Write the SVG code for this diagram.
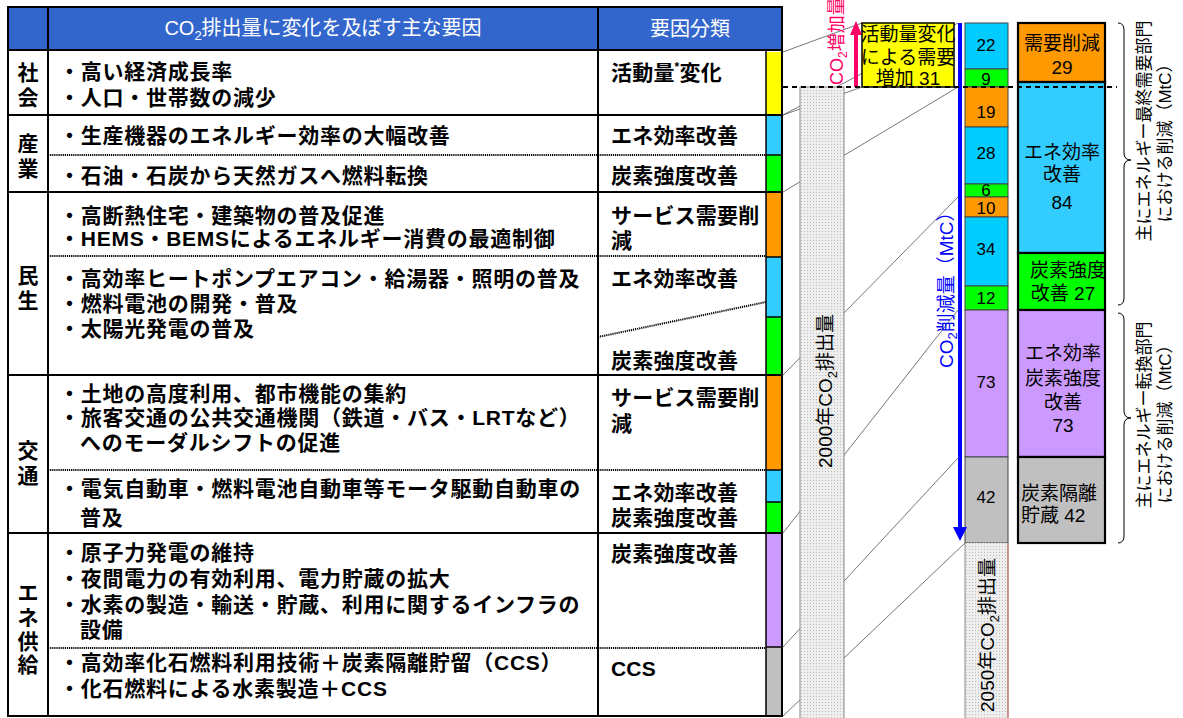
<svg xmlns="http://www.w3.org/2000/svg" width="1183" height="718" viewBox="0 0 1183 718">
<defs>
<style>
.t{font-family:"Liberation Sans","Noto Sans CJK JP",sans-serif;font-size:21px;font-weight:bold;letter-spacing:0.75px;fill:#000}
.c{font-family:"Liberation Sans","Noto Sans CJK JP",sans-serif;font-size:21px;font-weight:bold;letter-spacing:0.2px;fill:#000}
.lb{font-family:"Liberation Sans","Noto Sans CJK JP",sans-serif;font-size:21px;font-weight:bold;fill:#000;text-anchor:middle}
.h{font-family:"Liberation Sans","Noto Sans CJK JP",sans-serif;font-size:20px;fill:#fff;text-anchor:middle}
.n{font-family:"Liberation Sans","Noto Sans CJK JP",sans-serif;font-size:17px;fill:#000;text-anchor:middle}
.r{font-family:"Liberation Sans","Noto Sans CJK JP",sans-serif;font-size:19px;fill:#000;text-anchor:middle}
.rl{font-family:"Liberation Sans","Noto Sans CJK JP",sans-serif;font-size:19px;fill:#000}
.v{font-family:"Liberation Sans","Noto Sans CJK JP",sans-serif;font-size:19px;fill:#000}
.s{font-family:"Liberation Sans","Noto Sans CJK JP",sans-serif;font-size:17px;fill:#000;text-anchor:middle}
.thick{stroke:#000;stroke-width:2;fill:none}
.dot{stroke:#000;stroke-width:2;stroke-dasharray:1.2 0.9;fill:none}
.bar{stroke:#444;stroke-width:1}
.box{stroke:#000;stroke-width:2.2}
</style>
<pattern id="dots" width="3" height="3" patternUnits="userSpaceOnUse">
<rect width="3" height="3" fill="#EEEEEE"/>
<rect width="1" height="1" fill="#BDBDBD"/>
</pattern>
</defs>
<rect width="1183" height="718" fill="#fff"/>

<g id="connectors" stroke="#666" stroke-width="0.9" fill="none">
<line x1="783" y1="52" x2="862" y2="23"/>
<line x1="783" y1="115" x2="862" y2="87"/>
<line x1="783" y1="115" x2="958" y2="23"/>
<line x1="783" y1="192" x2="958" y2="87"/>
<line x1="783" y1="375" x2="958" y2="197"/>
<line x1="783" y1="533" x2="958" y2="310"/>
<line x1="783" y1="647" x2="958" y2="458"/>
<line x1="783" y1="716" x2="965" y2="543"/>
</g>

<g id="table">
<rect x="8" y="7" width="774" height="43" fill="#3366CC"/>
<rect x="766" y="52" width="16" height="63" fill="#FFFF00"/>
<rect x="766" y="115" width="16" height="40" fill="#33CCFF"/>
<rect x="766" y="155" width="16" height="37" fill="#00FF00"/>
<rect x="766" y="192" width="16" height="65" fill="#FF9900"/>
<rect x="766" y="257" width="16" height="60" fill="#33CCFF"/>
<rect x="766" y="317" width="16" height="58" fill="#00FF00"/>
<rect x="766" y="375" width="16" height="95" fill="#FF9900"/>
<rect x="766" y="470" width="16" height="32" fill="#33CCFF"/>
<rect x="766" y="502" width="16" height="31" fill="#00FF00"/>
<rect x="766" y="533" width="16" height="114" fill="#CC99FF"/>
<rect x="766" y="647" width="16" height="69" fill="#C0C0C0"/>
<g stroke="#000" stroke-width="1.5">
<line x1="766" y1="50" x2="766" y2="716"/>
<line x1="766" y1="155" x2="782" y2="155"/>
<line x1="766" y1="257" x2="782" y2="257"/>
<line x1="766" y1="317" x2="782" y2="317"/>
<line x1="766" y1="470" x2="782" y2="470"/>
<line x1="766" y1="502" x2="782" y2="502"/>
<line x1="766" y1="647" x2="782" y2="647"/>
</g>
<rect x="8" y="7" width="774" height="709" class="thick"/>
<line x1="48" y1="7" x2="48" y2="716" class="thick"/>
<line x1="598" y1="7" x2="598" y2="716" class="thick"/>
<line x1="8" y1="50" x2="782" y2="50" class="thick" stroke-width="2.5"/>
<line x1="8" y1="115" x2="782" y2="115" class="thick"/>
<line x1="8" y1="192" x2="782" y2="192" class="thick"/>
<line x1="8" y1="375" x2="782" y2="375" class="thick"/>
<line x1="8" y1="533" x2="782" y2="533" class="thick"/>
<line x1="48" y1="155" x2="766" y2="155" class="dot"/>
<line x1="48" y1="256" x2="766" y2="256" class="dot"/>
<line x1="48" y1="470" x2="766" y2="470" class="dot"/>
<line x1="48" y1="648" x2="766" y2="648" class="dot"/>
<line x1="598" y1="337" x2="766" y2="302" class="dot"/>

<text class="h" x="323" y="35">CO<tspan font-size="13" dy="5">2</tspan><tspan dy="-5">排出量に変化を及ぼす主な要因</tspan></text>
<text class="h" x="690" y="36">要因分類</text>
</g>

<g id="row-shakai">
<text class="lb" x="28" y="80">社</text>
<text class="lb" x="28" y="105">会</text>
<text class="t" x="59" y="79">・高い経済成長率</text>
<text class="t" x="59" y="105">・人口・世帯数の減少</text>
<text class="c" x="611" y="80">活動量<tspan font-size="12" dy="-9">*</tspan><tspan dy="9">変化</tspan></text>
</g>

<g id="row-sangyo">
<text class="lb" x="28" y="151">産</text>
<text class="lb" x="28" y="176">業</text>
<text class="t" x="59" y="143">・生産機器のエネルギー効率の大幅改善</text>
<text class="t" x="59" y="183">・石油・石炭から天然ガスへ燃料転換</text>
<text class="c" x="611" y="143">エネ効率改善</text>
<text class="c" x="611" y="183">炭素強度改善</text>
</g>

<g id="row-minsei">
<text class="lb" x="28" y="283">民</text>
<text class="lb" x="28" y="308">生</text>
<text class="t" x="59" y="223">・高断熱住宅・建築物の普及促進</text>
<text class="t" x="59" y="246">・HEMS・BEMSによるエネルギー消費の最適制御</text>
<text class="t" x="59" y="286">・高効率ヒートポンプエアコン・給湯器・照明の普及</text>
<text class="t" x="59" y="311">・燃料電池の開発・普及</text>
<text class="t" x="59" y="336">・太陽光発電の普及</text>
<text class="c" x="611" y="223">サービス需要削</text>
<text class="c" x="611" y="248">減</text>
<text class="c" x="611" y="286">エネ効率改善</text>
<text class="c" x="611" y="368">炭素強度改善</text>
</g>

<g id="row-kotsu">
<text class="lb" x="28" y="458">交</text>
<text class="lb" x="28" y="483">通</text>
<text class="t" x="59" y="401">・土地の高度利用、都市機能の集約</text>
<text class="t" x="59" y="425">・旅客交通の公共交通機関（鉄道・バス・LRTなど）</text>
<text class="t" x="80" y="450">へのモーダルシフトの促進</text>
<text class="t" x="59" y="496">・電気自動車・燃料電池自動車等モータ駆動自動車の</text>
<text class="t" x="80" y="525">普及</text>
<text class="c" x="611" y="405">サービス需要削</text>
<text class="c" x="611" y="431">減</text>
<text class="c" x="611" y="500">エネ効率改善</text>
<text class="c" x="611" y="525">炭素強度改善</text>
</g>

<g id="row-enekyokyu">
<text class="lb" x="28" y="600">エ</text>
<text class="lb" x="28" y="625">ネ</text>
<text class="lb" x="28" y="649">供</text>
<text class="lb" x="28" y="672">給</text>
<text class="t" x="59" y="560">・原子力発電の維持</text>
<text class="t" x="59" y="586">・夜間電力の有効利用、電力貯蔵の拡大</text>
<text class="t" x="59" y="612">・水素の製造・輸送・貯蔵、利用に関するインフラの</text>
<text class="t" x="80" y="637">設備</text>
<text class="t" x="59" y="670">・高効率化石燃料利用技術＋炭素隔離貯留（CCS）</text>
<text class="t" x="59" y="696">・化石燃料による水素製造＋CCS</text>
<text class="c" x="611" y="561">炭素強度改善</text>
<text class="c" x="611" y="676">CCS</text>
</g>

<g id="col-2000">
<rect x="800" y="87" width="44" height="640" fill="url(#dots)" stroke="#888" stroke-width="1"/>
<text class="v" transform="translate(832,468) rotate(-90)">2000年CO<tspan font-size="13" dy="5">2</tspan><tspan dy="-5">排出量</tspan></text>
</g>

<g id="increase">
<line x1="856" y1="87" x2="856" y2="34" stroke="#FF0066" stroke-width="4"/>
<polygon points="850,35 862,35 856,21" fill="#FF0066"/>
<text transform="translate(843,85) rotate(-90)" font-family="Liberation Sans, Noto Sans CJK JP, sans-serif" font-size="18" fill="#FF0066">CO<tspan font-size="12" dy="4">2</tspan><tspan dy="-4">増加量</tspan></text>
<rect x="862" y="23" width="92" height="64" fill="#FFFF00" stroke="#000" stroke-width="1.5"/>
<text class="r" x="908" y="41" font-size="18">活動量変化</text>
<text class="r" x="908" y="64" font-size="18">による需要</text>
<text class="r" x="908" y="85" font-size="18">増加 31</text>
</g>

<g id="bars">
<rect x="965" y="23" width="43" height="46" fill="#00CCFF" class="bar"/>
<rect x="965" y="69" width="43" height="18" fill="#00FF00" class="bar"/>
<rect x="965" y="87" width="43" height="40" fill="#FF9900" class="bar"/>
<rect x="965" y="127" width="43" height="57" fill="#00CCFF" class="bar"/>
<rect x="965" y="184" width="43" height="13" fill="#00FF00" class="bar"/>
<rect x="965" y="197" width="43" height="20" fill="#FF9900" class="bar"/>
<rect x="965" y="217" width="43" height="69" fill="#00CCFF" class="bar"/>
<rect x="965" y="286" width="43" height="24" fill="#00FF00" class="bar"/>
<rect x="965" y="310" width="43" height="147" fill="#CC99FF" class="bar"/>
<rect x="965" y="457" width="43" height="86" fill="#C0C0C0" class="bar"/>
<text class="n" x="986" y="51">22</text>
<text class="n" x="986" y="85">9</text>
<text class="n" x="986" y="118">19</text>
<text class="n" x="986" y="159">28</text>
<text class="n" x="986" y="196" font-size="15">6</text>
<text class="n" x="986" y="214">10</text>
<text class="n" x="986" y="255">34</text>
<text class="n" x="986" y="304">12</text>
<text class="n" x="986" y="388">73</text>
<text class="n" x="986" y="503">42</text>
</g>

<g id="col-2050">
<rect x="965" y="543" width="43" height="190" fill="url(#dots)"/>
<line x1="965" y1="543" x2="965" y2="718" stroke="#888" stroke-width="1"/>
<line x1="1008" y1="543" x2="1008" y2="718" stroke="#993333" stroke-width="1"/>
<text class="v" transform="translate(994,712) rotate(-90)">2050年CO<tspan font-size="13" dy="5">2</tspan><tspan dy="-5">排出量</tspan></text>
</g>

<g id="reduction-arrow">
<line x1="960" y1="23" x2="960" y2="528" stroke="#0000FF" stroke-width="4"/>
<polygon points="953,527 967,527 960,541" fill="#0000FF"/>
<text transform="translate(953,368) rotate(-90)" font-family="Liberation Sans, Noto Sans CJK JP, sans-serif" font-size="19" fill="#0000FF">CO<tspan font-size="13" dy="4">2</tspan><tspan dy="-4">削減量（MtC）</tspan></text>
</g>

<g id="summary">
<rect x="1018" y="23" width="87" height="59" fill="#FF9900" class="box"/>
<rect x="1018" y="82" width="87" height="171" fill="#33CCFF" class="box"/>
<rect x="1018" y="253" width="87" height="57" fill="#00FF00" class="box"/>
<rect x="1018" y="310" width="87" height="147" fill="#CC99FF" class="box"/>
<rect x="1018" y="457" width="87" height="86" fill="#C0C0C0" class="box"/>
<text class="r" x="1062" y="50">需要削減</text>
<text class="r" x="1062" y="74">29</text>
<text class="r" x="1062" y="159">エネ効率</text>
<text class="r" x="1062" y="181">改善</text>
<text class="r" x="1062" y="209">84</text>
<text class="r" x="1068" y="277">炭素強度</text>
<text class="r" x="1063" y="300">改善 27</text>
<text class="r" x="1063" y="360">エネ効率</text>
<text class="r" x="1063" y="385">炭素強度</text>
<text class="r" x="1063" y="409">改善</text>
<text class="r" x="1063" y="432">73</text>
<text class="rl" x="1021" y="500">炭素隔離</text>
<text class="rl" x="1021" y="522">貯蔵 42</text>
</g>

<line id="baseline-2000" x1="783" y1="87" x2="1117" y2="87" stroke="#000" stroke-width="2" stroke-dasharray="5 4"/>

<g id="brackets" fill="none" stroke="#000" stroke-width="1">
<path d="M1118,23 Q1124,23 1124,30 L1124,153 Q1124,160 1131,160 Q1124,160 1124,167 L1124,298 Q1124,305 1118,305"/>
<path d="M1118,313 Q1124,313 1124,320 L1124,411 Q1124,418 1131,418 Q1124,418 1124,425 L1124,536 Q1124,543 1118,543"/>
</g>
<g id="bracket-labels">
<text class="s" transform="translate(1150,131) rotate(-90)">主にエネルギー最終需要部門</text>
<text class="s" transform="translate(1171,139) rotate(-90)">における削減（MtC）</text>
<text class="s" transform="translate(1150,415) rotate(-90)">主にエネルギー転換部門</text>
<text class="s" transform="translate(1171,420) rotate(-90)">における削減（MtC）</text>
</g>
</svg>
